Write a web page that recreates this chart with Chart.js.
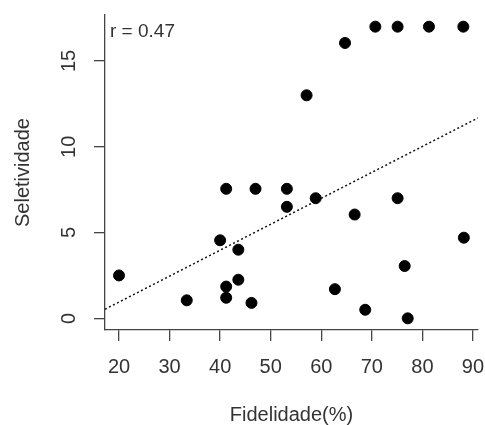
<!DOCTYPE html>
<html>
<head>
<meta charset="utf-8">
<script src="https://cdn.jsdelivr.net/npm/chart.js@4"></script>
<style>
  body { margin: 0; background: #fff; }
  canvas { display: block; }
</style>
</head>
<body>
<canvas id="grafico" width="485" height="425"></canvas>
<script>
// Fidelidade (%) x Seletividade
const fidelidade = [20, 33.4, 40, 41.2, 41.2, 41.2, 43.6, 43.6, 46.2, 47, 53.2, 53.2, 57.1, 58.9,
                    62.7, 64.7, 66.6, 68.7, 70.7, 75.1, 75.1, 76.5, 77.1, 81.3, 88.1, 88.2];
const seletividade = [2.5, 1.05, 4.55, 7.55, 1.85, 1.2, 4.0, 2.25, 0.9, 7.55, 7.55, 6.5, 13, 7.0,
                      1.7, 16.05, 6.05, 0.5, 17, 17, 7.0, 3.05, 0, 17, 17, 4.7];

// linha de tendência (extremos)
const linhaX = [17.23, 91];
const linhaY = [0.53, 11.68];

const xTicks = [20, 30, 40, 50, 60, 70, 80, 90];
const yTicks = [0, 5, 10, 15];
const rotulo = 'r = 0.47';

const fonte = 'Liberation Sans, Arial, sans-serif';
const corTexto = '#333';
const corEixo = '#444';

const pontos = fidelidade.map((x, i) => ({ x: x, y: seletividade[i] }));
const linha = linhaX.map((x, i) => ({ x: x, y: linhaY[i] }));

const semPadding = s => {
    s.paddingLeft = 0;
    s.paddingRight = 0;
    s.paddingTop = 0;
    s.paddingBottom = 0;
};

const textoR = {
    id: 'textoR',
    afterDraw(chart) {
        const c = chart.ctx;
        c.save();
        c.font = '19px ' + fonte;
        c.fillStyle = corTexto;
        c.textBaseline = 'middle';
        c.textAlign = 'left';
        c.fillText(rotulo, chart.chartArea.left + 5, chart.chartArea.top + 17);
        c.restore();
    }
};

const ctx = document.getElementById('grafico');

new Chart(ctx, {
    type: 'scatter',
    data: {
        datasets: [{
            data: pontos,
            backgroundColor: '#000',
            borderColor: '#000',
            pointRadius: 5.5,
            pointHoverRadius: 5.5
        }, {
            type: 'line',
            data: linha,
            borderColor: '#111',
            borderWidth: 1.5,
            borderDash: [2, 2.5],
            pointRadius: 0,
            fill: false
        }]
    },
    options: {
        responsive: false,
        animation: false,
        layout: { padding: { top: 15, right: 7, left: 0, bottom: 0 } },
        plugins: {
            legend: { display: false },
            tooltip: { enabled: false }
        },
        scales: {
            x: {
                type: 'linear',
                min: 17.23,
                max: 91,
                afterBuildTicks: s => { s.ticks = xTicks.map(v => ({ value: v })); },
                afterFit: s => { s.height = 95; semPadding(s); },
                grid: { drawOnChartArea: false, drawTicks: true, tickLength: 11, color: corEixo, lineWidth: 1.3 },
                border: { display: true, color: corEixo, width: 1.3 },
                ticks: { color: corTexto, padding: 14, font: { family: fonte, size: 20 }, maxRotation: 0 },
                title: {
                    display: true,
                    text: 'Fidelidade(%)',
                    color: corTexto,
                    font: { family: fonte, size: 20, lineHeight: 1 },
                    padding: { top: 0, bottom: 0 }
                }
            },
            y: {
                type: 'linear',
                min: -0.68,
                max: 17.68,
                afterBuildTicks: s => { s.ticks = yTicks.map(v => ({ value: v })); },
                afterFit: s => { s.width = 105; semPadding(s); },
                grid: { drawOnChartArea: false, drawTicks: true, tickLength: 11, color: corEixo, lineWidth: 1.3 },
                border: { display: true, color: corEixo, width: 1.3 },
                ticks: {
                    color: corTexto,
                    padding: 13,
                    minRotation: 90,
                    maxRotation: 90,
                    crossAlign: 'center',
                    font: { family: fonte, size: 20 }
                },
                title: {
                    display: true,
                    text: 'Seletividade',
                    color: corTexto,
                    font: { family: fonte, size: 20, lineHeight: 1 },
                    padding: { top: 13, bottom: 0 }
                }
            }
        }
    },
    plugins: [textoR]
});
</script>
</body>
</html>
